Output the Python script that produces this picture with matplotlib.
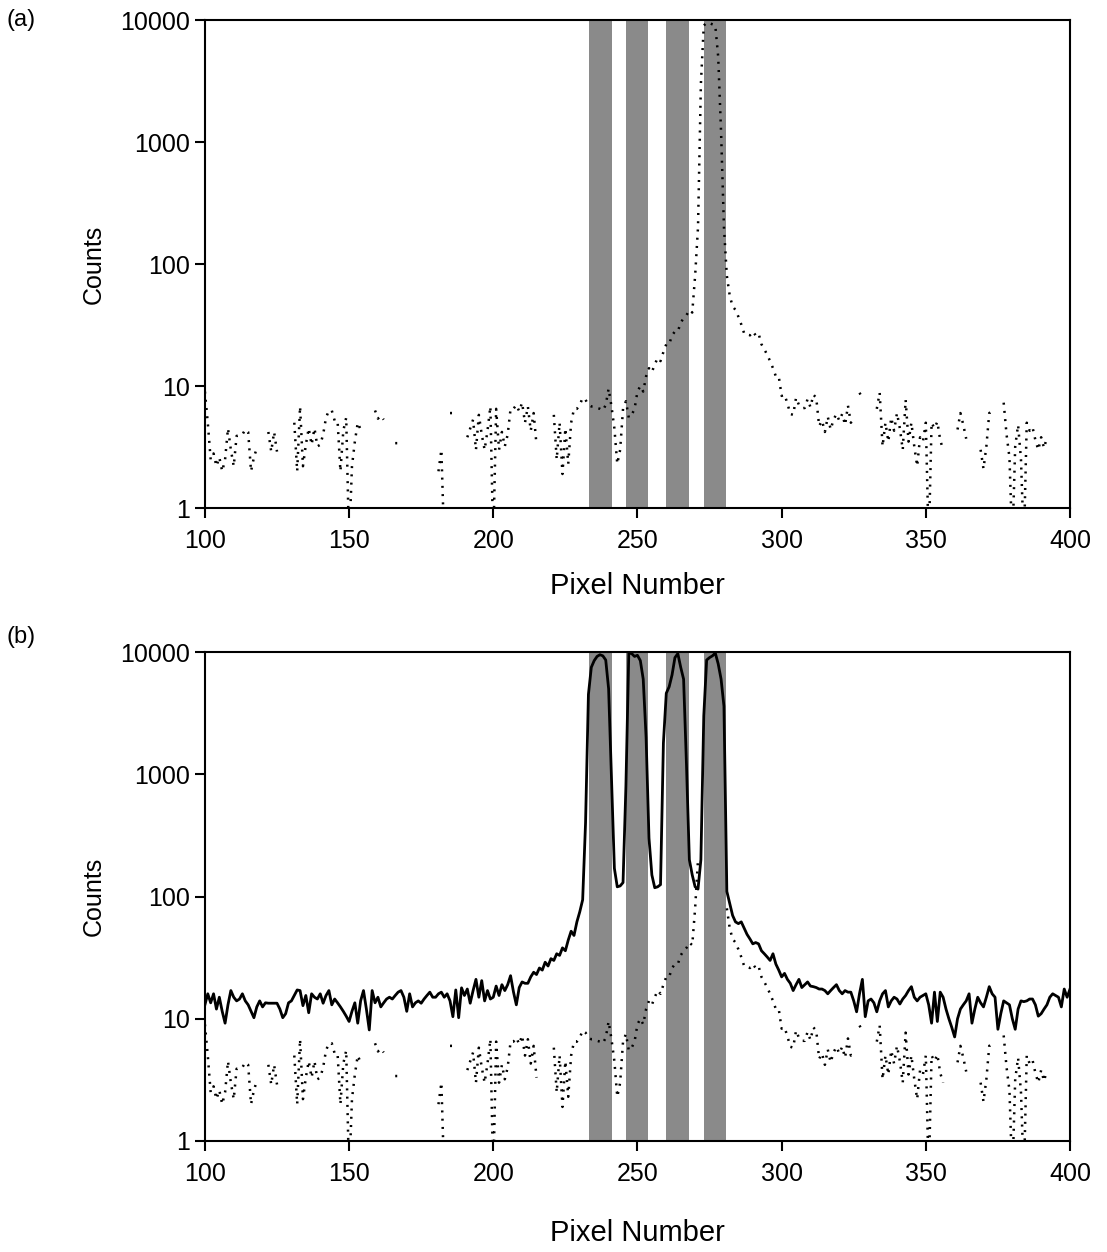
import numpy as np
import matplotlib
matplotlib.use("Agg")
import matplotlib.pyplot as plt

plt.rcParams['font.family'] = ['Liberation Sans', 'DejaVu Sans']

nan = np.nan

# pixel numbers (one value per pixel)
pixels = np.arange(100, 401)

# shaded pixel bands
band_starts = [233.2, 246.0, 260.0, 273.0]
band_ends = [241.1, 253.6, 267.9, 280.7]

# dotted trace, pixels 100..400
dotted_counts = [
    9.0, 5.0, 2.5, 2.8, 2.2, 2.6, 2.0, 2.5, 4.5, 3.0,
    2.2, 3.9, 3.9, 4.0, 4.4, 4.2, 2.0, 2.6, 3.1, nan,
    nan, nan, 4.2, 2.9, 4.2, 2.9, nan, nan, nan, nan,
    nan, 5.0, 2.0, 6.8, 2.2, 3.3, 4.5, 3.3, 4.5, 3.2,
    3.3, 4.0, 5.5, 6.3, 6.3, 5.2, 5.2, 2.0, 4.3, 5.5,
    0.5, 2.2, 3.5, 5.0, 4.4, nan, nan, nan, nan, 6.3,
    5.4, 5.7, 5.3, nan, nan, nan, 3.4, 3.4, nan, nan,
    nan, nan, nan, nan, nan, nan, nan, nan, nan, nan,
    nan, 2.0, 3.0, 0.5, nan, 6.0, 6.0, nan, nan, nan,
    nan, 3.8, 4.5, 5.3, 3.0, 5.8, 4.0, 3.0, 4.3, 6.8,
    0.5, 6.5, 3.0, 4.2, 3.2, 4.0, 6.5, 6.5, 7.0, 6.2,
    7.3, 5.0, 6.8, 4.3, 6.0, 3.3, nan, nan, nan, nan,
    nan, 5.8, 2.5, 5.0, 1.9, 4.5, 2.3, 5.0, 6.5, 6.5,
    7.0, 8.0, 7.7, 7.0, 6.8, 6.8, 6.6, 6.5, 6.3, 7.0,
    9.5, 6.8, 4.5, 2.3, 3.0, 6.5, 7.5, 5.5, 5.8, 6.5,
    9.0, 10.0, 9.0, 12.0, 14.0, 13.0, 15.0, 17.0, 16.0, 19.0,
    22.0, 22.0, 26.0, 28.0, 28.0, 33.0, 36.0, 38.0, 42.0, 40.0,
    80.0, 200.0, 3000.0, 9000.0, 9500.0, 9500.0, 9200.0, 9000.0, 5000.0, 1200.0,
    200.0, 80.0, 55.0, 45.0, 42.0, 37.0, 32.0, 27.0, 27.0, 26.0,
    28.0, 26.0, 27.0, 22.0, 20.0, 18.0, 16.0, 14.0, 12.0, 12.0,
    8.3, 8.5, 7.2, 5.9, 5.8, 8.0, 7.0, 6.6, 6.6, 7.8,
    6.7, 8.5, 8.0, 4.7, 5.2, 4.2, 5.6, 4.4, 5.3, 5.9,
    5.2, 5.9, 4.8, 6.9, 5.0, 5.3, nan, 8.8, 8.0, nan,
    nan, nan, nan, 6.5, 8.8, 3.2, 5.0, 3.5, 5.5, 4.3,
    6.0, 4.5, 3.0, 7.7, 3.5, 5.0, 3.2, 2.2, 3.8, 3.5,
    5.0, 0.5, 5.0, 4.5, 5.1, 3.6, 3.0, nan, nan, nan,
    nan, 4.4, 6.0, 4.8, 3.7, nan, nan, nan, nan, 3.0,
    2.1, 3.2, 6.0, 6.2, nan, nan, nan, 7.3, 4.0, 2.6,
    0.5, 3.2, 4.8, 2.5, 0.5, 5.0, 4.3, 4.6, 3.6, 3.0,
    3.8, 3.1, 3.8, nan, nan, nan, nan, nan, nan, nan,
    nan,
]

# in panel (b) the dotted trace is not shown across the last band
dotted_hidden_b = (272, 280)

# solid trace (panel b), pixels 100..400
solid_counts = [
    13.0, 16.0, 13.5, 16.0, 12.0, 15.0, 11.5, 9.2, 13.0, 17.0,
    15.0, 14.0, 14.5, 16.0, 14.0, 13.0, 11.5, 10.2, 12.5, 14.0,
    12.5, 13.5, 13.4, 13.4, 13.4, 13.4, 12.0, 10.2, 11.0, 13.5,
    14.0, 15.5, 17.2, 17.0, 12.8, 15.5, 11.2, 16.0, 15.0, 14.5,
    16.0, 13.4, 15.5, 17.0, 13.0, 14.5, 13.5, 12.5, 11.5, 10.5,
    9.5, 11.5, 13.5, 9.2, 14.0, 17.0, 12.0, 8.1, 17.0, 13.5,
    15.0, 12.5, 13.5, 14.5, 15.0, 14.5, 15.5, 16.5, 17.0, 15.0,
    11.5, 16.0, 12.5, 13.5, 14.0, 13.4, 14.5, 15.5, 16.5, 15.0,
    15.0, 16.0, 16.5, 15.0, 16.0, 14.0, 10.4, 17.2, 10.2, 17.9,
    15.5, 17.5, 13.4, 17.0, 21.0, 15.0, 20.5, 14.0, 17.0, 14.5,
    15.0, 18.5, 15.5, 19.0, 17.0, 19.0, 22.5, 16.6, 13.0, 18.0,
    20.0, 19.5, 19.5, 22.0, 24.0, 23.0, 26.0, 25.0, 29.0, 27.0,
    31.0, 30.0, 34.0, 33.0, 38.0, 36.0, 44.0, 52.0, 48.0, 62.0,
    75.0, 94.0, 400.0, 4500.0, 7500.0, 8500.0, 9200.0, 9500.0, 9300.0, 8600.0,
    5000.0, 900.0, 170.0, 120.0, 122.0, 130.0, 800.0, 9800.0, 9700.0, 9200.0,
    9400.0, 8500.0, 6000.0, 2000.0, 300.0, 150.0, 118.0, 120.0, 125.0, 1800.0,
    4600.0, 5200.0, 6500.0, 9000.0, 9700.0, 7500.0, 6000.0, 1200.0, 200.0, 150.0,
    120.0, 115.0, 200.0, 3000.0, 8600.0, 9000.0, 9300.0, 9800.0, 8000.0, 6000.0,
    3600.0, 110.0, 88.0, 70.0, 62.0, 60.0, 62.0, 55.0, 49.0, 45.0,
    41.0, 42.0, 41.0, 36.0, 34.0, 32.0, 30.0, 34.0, 28.0, 25.0,
    22.0, 23.5, 21.0, 19.5, 17.0, 19.0, 21.0, 18.0, 19.0, 20.0,
    18.5, 18.3, 18.0, 17.5, 17.5, 17.0, 16.0, 17.0, 18.0, 19.0,
    17.0, 16.0, 17.0, 16.5, 16.5, 14.0, 11.4, 16.0, 21.0, 10.4,
    14.0, 14.5, 13.5, 11.4, 14.0, 16.0, 17.0, 12.5, 14.0, 15.0,
    14.5, 13.2, 14.5, 15.5, 17.0, 18.3, 15.0, 14.0, 15.0, 15.5,
    16.0, 13.0, 9.2, 16.5, 9.5, 16.5, 15.0, 12.0, 10.0, 8.5,
    7.1, 10.0, 12.0, 13.0, 14.0, 16.0, 9.2, 12.0, 15.0, 13.5,
    12.5, 15.0, 18.3, 16.0, 15.0, 8.2, 11.0, 14.0, 13.5, 13.0,
    10.0, 8.2, 12.0, 14.0, 13.8, 14.0, 14.5, 14.5, 13.0, 10.5,
    11.0, 12.0, 13.0, 15.0, 16.0, 15.5, 15.0, 12.5, 17.5, 15.0,
    17.5,
]

y_ticks = [1, 10, 100, 1000, 10000]
x_ticks = [100, 150, 200, 250, 300, 350, 400]

W, H = 1107, 1252
fig = plt.figure(figsize=(W / 100, H / 100), dpi=100, facecolor="white")

ax_left = 204.9 / W
ax_width = (1070 - 204.9) / W
ax_a = fig.add_axes([ax_left, 1 - 508 / H, ax_width, 488 / H])
ax_b = fig.add_axes([ax_left, 1 - 1141 / H, ax_width, 489 / H])


def style_axis(ax, dotted):
    for s0, s1 in zip(band_starts, band_ends):
        ax.axvspan(s0, s1, color="#8a8a8a", lw=0, zorder=1)
    ax.plot(pixels, dotted, color="black", lw=1.8,
            linestyle=(0, (0.8, 2.5)), zorder=3)
    ax.set_yscale("log")
    ax.set_xlim(100, 400)
    ax.set_ylim(1, 10000)
    ax.set_yticks(y_ticks)
    ax.set_yticklabels([str(t) for t in y_ticks])
    ax.yaxis.set_minor_locator(matplotlib.ticker.NullLocator())
    ax.set_xticks(x_ticks)
    ax.tick_params(axis="both", direction="out", length=7, width=1.5,
                   labelsize=18)
    ax.tick_params(axis="y", pad=4)
    ax.tick_params(axis="x", pad=8)
    for sp in ax.spines.values():
        sp.set_linewidth(1.5)
    ax.set_ylabel("Counts", fontsize=18, labelpad=10)
    ax.set_xlabel("Pixel Number", fontsize=21, labelpad=14)


dotted_b = np.array(dotted_counts, dtype=float)
dotted_b[(pixels >= dotted_hidden_b[0]) & (pixels <= dotted_hidden_b[1])] = nan

style_axis(ax_a, dotted_counts)
style_axis(ax_b, dotted_b)
ax_b.plot(pixels, solid_counts, color="black", lw=2.0, zorder=4)
ax_b.xaxis.labelpad = 24

fig.text(6 / W, 1 - 20 / H, "(a)", fontsize=17, va="center", ha="left")
fig.text(6 / W, 1 - 637 / H, "(b)", fontsize=17, va="center", ha="left")

fig.savefig("out.png", dpi=100, facecolor="white")
